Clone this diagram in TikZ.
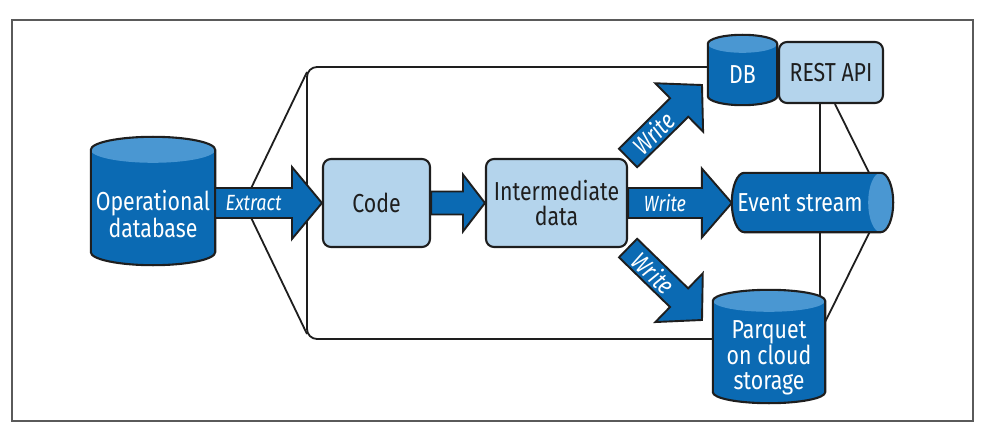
\documentclass[tikz,border=0pt]{standalone}
\usepackage{fontspec}
\setmainfont{Fira Sans}[FakeStretch=0.82]
\usetikzlibrary{positioning, calc, backgrounds}

\definecolor{cylblue}{HTML}{0B6AB3}
\definecolor{capblue}{HTML}{4A97D2}
\definecolor{boxblue}{HTML}{B4D4EC}
\definecolor{inkdark}{HTML}{1E1E1E}
\definecolor{framegray}{HTML}{5A5A5A}

% upright cylinder behind a node: #1 node, #2 cap radius, #3 cap height above the node
\newcommand{\vcyl}[3]{%
  \path[fill=cylblue] let \p1=(#1.south west), \p2=(#1.north east), \n1={(\x2-\x1)/2} in
    (\x1,\y2+#3-#2) -- (\x1,\y1+#2) arc[start angle=180, end angle=360, x radius=\n1, y radius=#2]
    -- (\x2,\y2+#3-#2) arc[start angle=0, end angle=180, x radius=\n1, y radius=#2] -- cycle;
  \path[fill=capblue] let \p1=(#1.south west), \p2=(#1.north east), \n1={(\x2-\x1)/2} in
    (\x1/2+\x2/2,\y2+#3-#2) ellipse[x radius=\n1, y radius=#2];
  \path[outline] let \p1=(#1.south west), \p2=(#1.north east), \n1={(\x2-\x1)/2} in
    (\x1,\y2+#3-#2) -- (\x1,\y1+#2) arc[start angle=180, end angle=360, x radius=\n1, y radius=#2]
    -- (\x2,\y2+#3-#2) arc[start angle=0, end angle=180, x radius=\n1, y radius=#2] -- cycle;
}
% lying cylinder behind a node: #1 node, #2 end radius, #3 end width right of the node
\newcommand{\hcyl}[3]{%
  \path[fill=cylblue] let \p1=(#1.south west), \p2=(#1.north east), \n1={(\y2-\y1)/2} in
    (\x1+#2,\y2) -- (\x2+#3-#2,\y2) arc[start angle=90, end angle=-90, x radius=#2, y radius=\n1]
    -- (\x1+#2,\y1) arc[start angle=270, end angle=90, x radius=#2, y radius=\n1] -- cycle;
  \path[fill=capblue] let \p1=(#1.south west), \p2=(#1.north east), \n1={(\y2-\y1)/2} in
    (\x2+#3-#2,\y1/2+\y2/2) ellipse[x radius=#2, y radius=\n1];
  \path[outline] let \p1=(#1.south west), \p2=(#1.north east), \n1={(\y2-\y1)/2} in
    (\x1+#2,\y2) -- (\x2+#3-#2,\y2) arc[start angle=90, end angle=-90, x radius=#2, y radius=\n1]
    -- (\x1+#2,\y1) arc[start angle=270, end angle=90, x radius=#2, y radius=\n1] -- cycle;
}
% block arrow: #1 tail, #2 tip, #3 half shaft, #4 half head, #5 head length, #6 label
\newcommand{\fatarrow}[7][]{%
  \coordinate (fa) at ($(#3)!#6!(#2)$);
  \draw[bigarrow] ($(#2)!#4!90:(#3)$) -- ($(fa)!#4!90:(#3)$) -- ($(fa)!#5!90:(#3)$) -- (#3)
    -- ($(fa)!#5!-90:(#3)$) -- ($(fa)!#4!-90:(#3)$) -- ($(#2)!#4!-90:(#3)$) -- cycle;
  \path (#2) -- (fa) node[midway, sloped, arrowlabel, #1] {#7};
}

\begin{document}
\begin{tikzpicture}[x=1pt, y=1pt, node distance=180pt, on grid,
    box/.style = {draw=inkdark, line width=2.1pt, fill=boxblue, rounded corners=8pt, text=inkdark,
      align=center, inner sep=0pt, font=\fontsize{26}{25}\selectfont},
    cyl/.style = {inner sep=0pt, align=center, text=white, font=\fontsize{26}{25}\selectfont},
    outline/.style = {draw=inkdark, line width=2.1pt},
    bigarrow/.style = {fill=cylblue, draw=inkdark, line width=1.9pt, line join=miter},
    arrowlabel/.style = {text=white, inner sep=0pt, font=\itshape\fontsize{22}{22}\selectfont},
    diaglabel/.style = {font=\itshape\fontsize{25}{25}\selectfont},
    zoomline/.style = {draw=inkdark, line width=1.8pt},
    frame/.style = {draw=framegray, line width=1.2pt}]

    \useasboundingbox (0,0) rectangle (984,429);
    \draw[frame] (12,8) rectangle (973,409);

    \node (opdb) [cyl, minimum width=124pt, minimum height=102pt] at (153,215) {Operational\\database};
    \node (code) [box, minimum width=107pt, minimum height=88pt] at (376.5,226) {Code};
    \node (inter) [box, minimum width=141pt, minimum height=88pt, right=180pt of code] {Intermediate\\data};
    \node (event) [cyl, minimum width=136pt, minimum height=59pt] at (800,226.5) {Event stream};
    \node (db) [cyl, minimum width=69pt, minimum height=61pt] at (742.5,354.5) {DB};
    \node (rest) [box, minimum width=104pt, minimum height=61pt] at (831,356.5) {REST API};
    \node (parquet) [cyl, minimum width=112pt, minimum height=91pt] at (769,71.5) {Parquet\\on cloud\\storage};

    \coordinate (xtail) at (opdb.east |- code.west);
    \coordinate (evtip) at (event.west |- inter.east);
    \coordinate (dbtip) at (702,344);
    \coordinate (pqtip) at (702,109);
    \coordinate (ftop) at (307,362);
    \coordinate (fbot) at (307,90);
    \coordinate (zoomL) at (244,226);
    \coordinate (zoomR) at (884,226);
    \coordinate (restleft) at ($(rest.south)+(-11,0)$);

    \begin{pgfonlayer}{background}
        \draw[zoomline, rounded corners=10pt] (db.center |- ftop) -- (ftop) -- (fbot) -- (parquet.center |- fbot);
        \draw[zoomline] ($(ftop)+(0,-5)$) -- (zoomL) -- ($(fbot)+(0,5)$);
        \draw[zoomline] (restleft) -- (restleft |- parquet.center);
        \draw[zoomline] ($(rest.south)+(4,0)$) -- (zoomR) -- ($(parquet.north east)+(0,-10)$);
        \vcyl{opdb}{13pt}{26pt}
        \vcyl{db}{9pt}{9pt}
        \vcyl{parquet}{11pt}{22pt}
        \hcyl{event}{12.5pt}{25pt}
    \end{pgfonlayer}

    \fatarrow{xtail}{code.west}{15pt}{36pt}{30pt}{Extract}
    \fatarrow{code.east}{inter.west}{11.5pt}{28.5pt}{22pt}{}
    \fatarrow{inter.east}{evtip}{15pt}{34.5pt}{30pt}{Write}
    \fatarrow[diaglabel]{inter.north east}{dbtip}{13pt}{34pt}{32pt}{Write}
    \fatarrow[diaglabel]{inter.south east}{pqtip}{13pt}{34pt}{32pt}{Write}

\end{tikzpicture}
\end{document}
